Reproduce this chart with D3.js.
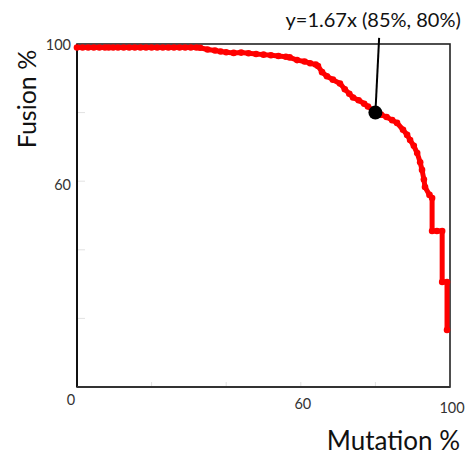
<!DOCTYPE html>
<html>
<head>
<meta charset="utf-8">
<script src="https://cdn.jsdelivr.net/npm/d3@7"></script>
<style>
  html, body { margin: 0; padding: 0; background: #fff; }
  svg { display: block; font-family: Lato, "Open Sans", sans-serif; }
</style>
</head>
<body>
<svg id="chart" width="473" height="457"></svg>
<script>
// ---- data ----
const mutation = [0, 1.5, 3, 4.5, 6, 7.5, 8.5, 9.1, 9.7, 11, 12.5, 14, 15.5, 17, 18.5, 20, 21.5, 23, 24.5, 26, 27.5, 29, 30.5, 32, 33, 35, 37, 38.5, 40, 42, 44, 46, 48, 50, 52, 54, 56, 57, 59, 61, 62.5, 64, 64.6, 65.7, 67, 68.6, 70.5, 71.8, 73, 74, 75.5, 77, 78, 80, 81.5, 83, 84.5, 85.8, 87.4, 88.5, 89.3, 90.3, 91.2, 92, 92.5, 93, 93.3, 94.5, 95.2, 95.2, 96.5, 97.9, 97.9, 99.2, 99.2];
const fusion   = [99, 99, 99, 99, 99, 99, 99, null, 99, 99, 99, 99, 99, 99, 99, 99, 99, 99, 99, 99, 99, 99, 99, 99, 98.9, 98.4, 98.1, 97.8, 97.6, 97.4, 97.5, 97.3, 97.1, 96.9, 96.7, 96.5, 96.3, 96.1, 95.3, 94.9, 94.4, 94.0, 93.6, 91.8, 90.6, 89.6, 88.5, 86.8, 85.5, 84.4, 83.6, 82.6, 81.8, 80, 79.4, 78.7, 77.8, 77, 75, 73.5, 72, 70.3, 68.2, 65.5, 63.3, 60.5, 58.3, 56, 55.1, 45.5, 45.5, 45.5, 30.6, 30.6, 16.6];

const xTickLabels = [0, 60, 100];
const yTickLabels = [60, 100];
const minorTicks = [20, 40, 60, 80];

const highlightX = [80];
const highlightY = [80];
const calloutEnd = [81, 101.8];
const calloutText = "y=1.67x (85%, 80%)";

const xTitle = "Mutation %";
const yTitle = "Fusion %";

// ---- layout ----
const svg = d3.select("#chart");
const m = { left: 77, top: 44, right: 23, bottom: 70 };
const W = 473, H = 457;
const x = d3.scaleLinear().domain([0, 100]).range([m.left, W - m.right]);
const y = d3.scaleLinear().domain([0, 100]).range([H - m.bottom, m.top]);

// faint minor ticks inside frame
svg.append("g").selectAll("line").data(minorTicks).join("line")
  .attr("x1", d => x(d)).attr("x2", d => x(d))
  .attr("y1", y(0)).attr("y2", y(0) - 5)
  .attr("stroke", "#e2e2e2").attr("stroke-width", 1);
svg.append("g").selectAll("line").data(minorTicks).join("line")
  .attr("y1", d => y(d)).attr("y2", d => y(d))
  .attr("x1", x(0)).attr("x2", x(0) + 8)
  .attr("stroke", "#e2e2e2").attr("stroke-width", 1);

// frame
svg.append("rect")
  .attr("x", x(0)).attr("y", y(100))
  .attr("width", x(100) - x(0)).attr("height", y(0) - y(100))
  .attr("fill", "none").attr("stroke", "#222").attr("stroke-width", 1.6);
svg.append("line").attr("x1", x(0)).attr("x2", x(0)).attr("y1", y(100)).attr("y2", y(0))
  .attr("stroke", "#111").attr("stroke-width", 2);
svg.append("line").attr("x1", x(0)).attr("x2", x(100)).attr("y1", y(0)).attr("y2", y(0))
  .attr("stroke", "#333").attr("stroke-width", 2);

// tick labels
svg.append("g").selectAll("text").data(xTickLabels).join("text")
  .attr("x", d => d === 0 ? x(d) - 6 : x(d) + 2)
  .attr("y", (d, i) => y(0) + 18 + i * 4)
  .attr("text-anchor", "middle")
  .attr("font-size", 14.5).attr("fill", "#333")
  .text(d => d);
svg.append("g").selectAll("text").data(yTickLabels).join("text")
  .attr("x", x(0) - 6)
  .attr("y", d => y(d) + (d === 100 ? 6 : 9))
  .attr("text-anchor", "end")
  .attr("font-size", 14.5).attr("fill", "#333")
  .text(d => d);

// data line
const pts = mutation.map((v, i) => ({ x: v, y: fusion[i] }));
const line = d3.line().defined(d => d.y != null).x(d => x(d.x)).y(d => y(d.y));
svg.append("path").datum(pts)
  .attr("d", line)
  .attr("fill", "none").attr("stroke", "#f00")
  .attr("stroke-width", 5).attr("stroke-linejoin", "round").attr("stroke-linecap", "round");
svg.append("g").selectAll("circle").data(pts.filter(d => d.y != null)).join("circle")
  .attr("cx", d => x(d.x)).attr("cy", d => y(d.y)).attr("r", 3.3)
  .attr("fill", "#f00");

// callout
svg.append("line")
  .attr("x1", x(highlightX[0])).attr("y1", y(highlightY[0]))
  .attr("x2", x(calloutEnd[0])).attr("y2", y(calloutEnd[1]))
  .attr("stroke", "#000").attr("stroke-width", 2);
svg.append("circle")
  .attr("cx", x(highlightX[0])).attr("cy", y(highlightY[0])).attr("r", 7)
  .attr("fill", "#000");
svg.append("text")
  .attr("x", x(calloutEnd[0]) - 6).attr("y", 27)
  .attr("text-anchor", "middle").attr("font-size", 20).attr("fill", "#111")
  .text(calloutText);

// axis titles
svg.append("text")
  .attr("x", 460).attr("y", 450)
  .attr("text-anchor", "end").attr("font-size", 26).attr("fill", "#111")
  .text(xTitle);
svg.append("text")
  .attr("transform", "translate(36,99) rotate(-90)")
  .attr("text-anchor", "middle").attr("font-size", 25).attr("fill", "#111")
  .text(yTitle);
</script>
</body>
</html>
